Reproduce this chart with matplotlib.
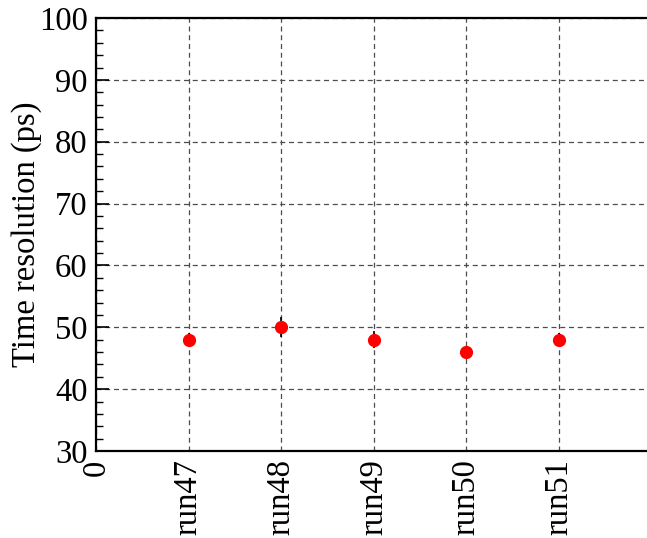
import matplotlib
matplotlib.use('Agg')
import matplotlib.pyplot as plt
import numpy as np

plt.rc('font', family='Liberation Serif', size=23.5)

# data
runs = ['run47', 'run48', 'run49', 'run50', 'run51']
xpos = [1, 2, 3, 4, 5]
tres = [48.0, 50.0, 48.0, 46.0, 48.0]
terr = [1.0, 1.6, 1.4, 1.0, 1.0]

fig = plt.figure(figsize=(6.47, 5.38), dpi=100)
ax = fig.add_axes([0.1484, 0.1617, 0.8587, 0.8048])

ax.errorbar(xpos, tres, yerr=terr, fmt='o', color='red', ecolor='black',
            elinewidth=1.2, markersize=8.5, capsize=0, zorder=5)

ax.set_xlim(0, 6)
ax.set_ylim(30, 100)

ax.set_xticks([0] + xpos)
ax.set_xticklabels(['0'] + runs, rotation=90, va='top', ha='center')
ax.set_yticks(np.arange(30, 101, 10))
ax.set_yticks(np.arange(30, 101, 2), minor=True)

ax.grid(True, which='major', ls=(0, (4, 3)), color='0.3', lw=0.9)
ax.tick_params(axis='y', which='major', direction='in', length=9, width=1.2, pad=6)
ax.tick_params(axis='y', which='minor', direction='in', length=5, width=1.0)
ax.tick_params(axis='x', which='both', length=0, pad=6)
ax.tick_params(right=False, top=False)
for s in ax.spines.values():
    s.set_linewidth(1.6)

ax.set_ylabel('Time resolution (ps)')
ax.yaxis.set_label_coords(-0.098, 0.5)

plt.savefig('out.png', dpi=100)
